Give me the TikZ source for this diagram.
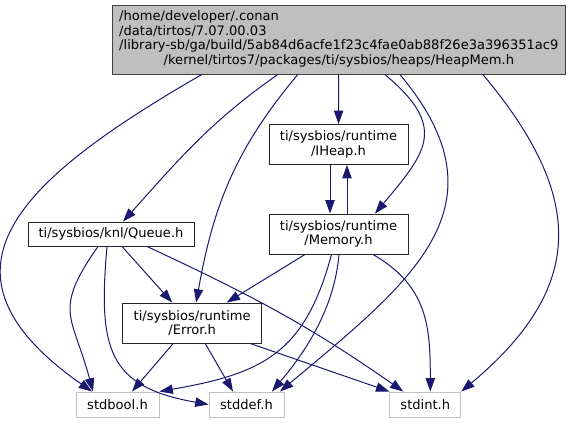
\documentclass[tikz,border=0pt]{standalone}
\usepackage{fontspec}
\setmainfont{DejaVu Sans}
\usetikzlibrary{arrows.meta,calc}
\definecolor{depblue}{HTML}{191970}
\definecolor{rootgrey}{HTML}{BFBFBF}
\definecolor{rootline}{HTML}{404040}
\definecolor{sysgrey}{HTML}{BFBFBF}

\begin{document}
\begin{tikzpicture}[
  x=0.75pt, y=0.75pt,
  font=\fontsize{9.8}{11}\selectfont,
  file/.style={draw=black!85, line width=0.7pt, fill=white, align=center,
               inner sep=0pt, minimum width=104.25pt, minimum height=30pt},
  root/.style={file, draw=rootline, fill=rootgrey},
  sys/.style={file, draw=sysgrey, minimum height=18.75pt},
  dep/.style={-{Triangle[length=10pt,width=7pt]}, depblue, line width=0.75pt},
]
\useasboundingbox (0,0) rectangle (571,-424);

% ---------------- files --------------------------------------------
\node[root, minimum width=339.2pt, minimum height=51.75pt] (main) at (338.85,-39.5)
  {\begin{tabular}{@{}l@{}}
   /home/developer/.conan\\
   /data/tirtos/7.07.00.03\\
   /library-sb/ga/build/5ab84d6acfe1f23c4fae0ab88f26e3a396351ac9\\
   \multicolumn{1}{@{}c@{}}{/kernel/tirtos7/packages/ti/sysbios/heaps/HeapMem.h}
   \end{tabular}};

\node[file] (iheap) at (338.5,-144.5) {ti/sysbios/runtime\\/IHeap.h};
\node[file] (memory) at (338.5,-234) {ti/sysbios/runtime\\/Memory.h};
\node[file, minimum width=124.5pt, minimum height=18pt] (queue) at (111,-234)
  {ti/sysbios/knl/Queue.h};
\node[file] (error) at (192.2,-323) {ti/sysbios/runtime\\/Error.h};

\node[sys, minimum width=62.25pt] (stdbool) at (117.5,-404.5) {stdbool.h};
\node[sys, minimum width=56.25pt] (stddef) at (246.5,-404.5) {stddef.h};
\node[sys, minimum width=53.25pt] (stdint) at (425.3,-404.5) {stdint.h};

% ---------------- HeapMem.h includes -------------------------------
\draw[dep] (main) -- (iheap);
\draw[dep] ($(main.south)+(46,0)$) to[out=-40, in=50, looseness=1.5]
  ($(memory.north)+(36.5,0)$);
\draw[dep] ($(main.south)+(61,0)$) to[out=-50, in=40, looseness=1.3]
  ($(stddef.north)+(33.5,0)$);
\draw[dep] ($(main.south)+(144,0)$) to[out=-50, in=40, looseness=1.3]
  (stdint.north east);
\draw[dep] ($(main.south)+(-61,0)$) to[out=-145, in=48]
  ($(queue.north)+(12,0)$);
\draw[dep] ($(main.south)+(-41,0)$) to[out=-130, in=80]
  ($(error.north)+(4,0)$);
\draw[dep] ($(main.south)+(-137,0)$) to[out=-150, in=145, looseness=1.6]
  ($(stdbool.north)+(-25.5,0)$);

% ---------------- IHeap.h / Memory.h -------------------------------
\draw[dep] ($(iheap.south)+(-8.5,0)$) -- ($(memory.north)+(-8.5,0)$);
\draw[dep] ($(memory.north)+(8.5,0)$) -- ($(iheap.south)+(8.5,0)$);
\draw[dep] ($(memory.south)+(-33.5,0)$) -- ($(error.north)+(34.5,0)$);
\draw[dep] ($(memory.south)+(-7,0)$) to[out=-105, in=10, looseness=1.2]
  (stdbool.north east);
\draw[dep] ($(memory.south)+(0.5,0)$) to[out=-95, in=50, looseness=0.9]
  ($(stddef.north)+(25.5,0)$);
\draw[dep] ($(memory.south)+(34.5,0)$) to[out=-30, in=90, looseness=1.1]
  ($(stdint.north)+(5,0)$);

% ---------------- Queue.h ------------------------------------------
\draw[dep] ($(queue.south)+(-13,0)$) to[out=-125, in=105, looseness=1.4]
  ($(stdbool.north)+(-24.5,0)$);
\draw[dep] ($(queue.south)+(-4,0)$) to[out=-95, in=170, looseness=1.4]
  (stddef.west);
\draw[dep] ($(queue.south)+(11,0)$) -- ($(error.north)+(-20,0)$);
\draw[dep] ($(queue.south)+(36,0)$) to[out=-25, in=145]
  ($(stdint.north)+(-22,0)$);

% ---------------- Error.h ------------------------------------------
\draw[dep] ($(error.south)+(-19,0)$) -- ($(stdbool.north)+(14.5,0)$);
\draw[dep] ($(error.south)+(13,0)$) -- ($(stddef.north)+(-13.5,0)$);
\draw[dep] ($(error.south)+(58,0)$) -- (stdint.north west);

\end{tikzpicture}
\end{document}
